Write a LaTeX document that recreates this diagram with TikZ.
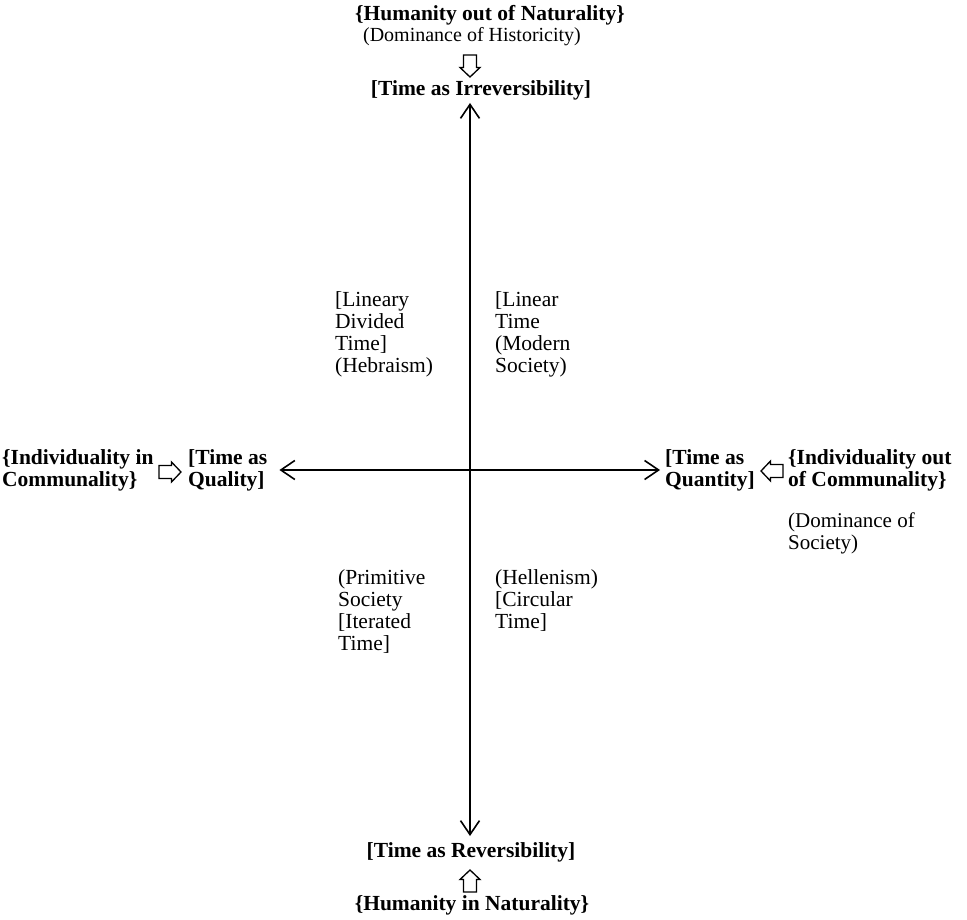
\documentclass[tikz,border=0pt]{standalone}
\usepackage{fontspec}
\setmainfont{Liberation Serif}
\usetikzlibrary{arrows.meta}

\tikzset{
  txt/.style={inner sep=0pt, align=left, font=\fontsize{21.5}{22}\selectfont},
  pole/.style={txt, font=\fontsize{21.5}{22}\selectfont\bfseries},
  axis/.style={line width=1.6pt, {Straight Barb[length=14pt,width=19pt,line width=1.6pt]}-{Straight Barb[length=14pt,width=19pt,line width=1.6pt]}},
  hollow/.pic={\draw[line width=1.3pt, line join=miter] (-6.5,0) -- (-6.5,12.5) -- (-10,12.5) -- (0,22) -- (10,12.5) -- (6.5,12.5) -- (6.5,0) -- cycle;}
}

\begin{document}
\begin{tikzpicture}[x=1pt,y=-1pt]
  \useasboundingbox (0,0) rectangle (967,920);
  \coordinate (O) at (470,470);

  \node[pole] (hout) at (490,15) {\{Humanity out of Naturality\}};
  \node[txt, font=\fontsize{20}{22}\selectfont] (hist) at (472,37) {(Dominance of Historicity)};
  \pic at (470,55) {hollow};
  \node[pole] (irr) at (481,90) {[Time as Irreversibility]};

  \node[pole] (rev) at (471,852) {[Time as Reversibility]};
  \pic[rotate=180] at (470,892) {hollow};
  \node[pole] (hin) at (472,905) {\{Humanity in Naturality\}};

  \node[pole,anchor=west] (icom) at (2,470) {\{Individuality in\\Communality\}};
  \pic[rotate=90] at (159,472) {hollow};
  \node[pole,anchor=west] (qual) at (188,470) {[Time as\\Quality]};

  \node[pole,anchor=west] (quan) at (665,470) {[Time as\\Quantity]};
  \pic[rotate=-90] at (783,471) {hollow};
  \node[pole,anchor=west] (iocom) at (788,470) {\{Individuality out\\of Communality\}};
  \node[txt,anchor=north west,font=\fontsize{21}{22}\selectfont] (soc) at (788,513) {(Dominance of\\Society)};

  % quadrants
  \node[txt,anchor=north west] (heb) at (335,291) {[Lineary\\Divided\\Time]\\(Hebraism)};
  \node[txt,anchor=north west] (mod) at (495,291) {[Linear\\Time\\(Modern\\Society)};
  \node[txt,anchor=north west] (prim) at (338,569) {(Primitive\\Society\\{[}Iterated\\Time]};
  \node[txt,anchor=north west] (hell) at (495,569) {(Hellenism)\\{[}Circular\\Time]};

  \draw[axis, shorten <=3pt, shorten >=6pt] (irr.south -| O) -- (rev.north -| O);
  \draw[axis, shorten <=12pt, shorten >=5pt] (qual.east |- O) -- (quan.west |- O);
\end{tikzpicture}
\end{document}
